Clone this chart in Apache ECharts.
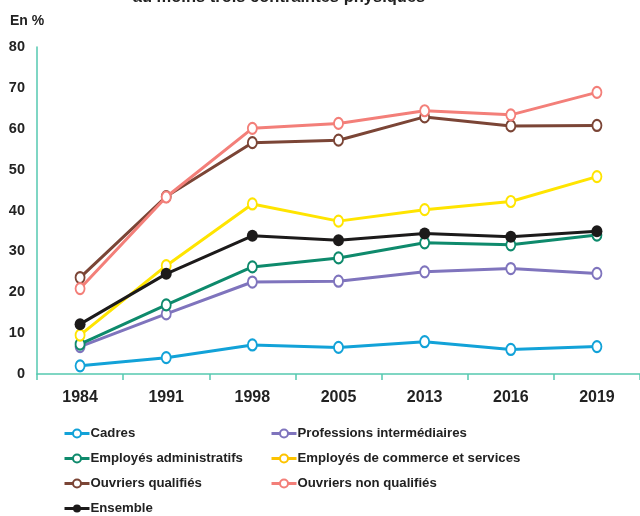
<!DOCTYPE html>
<html>
<head>
<meta charset="utf-8">
<script src="https://cdn.jsdelivr.net/npm/echarts@6/dist/echarts.min.js"></script>
<style>html,body{margin:0;padding:0;background:#fff;}#c{width:640px;height:516px;}</style>
</head>
<body>
<div id="c"></div>
<script>
const years = ['1984', '1991', '1998', '2005', '2013', '2016', '2019'];
const yTicks = [0, 10, 20, 30, 40, 50, 60, 70, 80];
const cadres = [2.0, 4.0, 7.1, 6.5, 7.9, 6.0, 6.7];
const professions = [6.7, 14.7, 22.5, 22.7, 25.0, 25.8, 24.6];
const employesAdmin = [7.3, 16.9, 26.2, 28.4, 32.1, 31.6, 34.0];
const employesCommerce = [9.5, 26.5, 41.6, 37.4, 40.2, 42.2, 48.3];
const ouvriersQualifies = [23.6, 43.4, 56.6, 57.2, 62.9, 60.7, 60.8];
const ouvriersNonQualifies = [20.9, 43.3, 60.1, 61.3, 64.4, 63.4, 68.9];
const ensemble = [12.2, 24.5, 33.8, 32.7, 34.4, 33.6, 34.9];

const names = ['Cadres', 'Professions intermédiaires', 'Employés administratifs',
  'Employés de commerce et services', 'Ouvriers qualifiés', 'Ouvriers non qualifiés', 'Ensemble'];
const colors = ['#12a2d8', '#7f74bd', '#0e8a6c', '#ffe400', '#7b4536', '#f37f79', '#1c1a1a'];
const legendColors = ['#12a2d8', '#7f74bd', '#0e8a6c', '#fdc300', '#7b4536', '#f37f79', '#1c1a1a'];
const values = [cadres, professions, employesAdmin, employesCommerce, ouvriersQualifies, ouvriersNonQualifies, ensemble];

const FONT = '"Liberation Sans", Arial, sans-serif';
const axisColor = '#55c9b0';

const series = names.map((n, i) => ({
  name: n,
  type: 'line',
  data: values[i],
  symbol: i === 6 ? 'circle' : 'emptyCircle',
  symbolSize: i === 6 ? [11, 12] : [9, 11],
  showSymbol: true,
  lineStyle: { color: colors[i], width: 3 },
  itemStyle: { color: colors[i], borderWidth: 1.3 },
  z: 2 + i,
  animation: false
}));

const legendPos = [
  [63, 427], [270, 427], [63, 452], [270, 452], [63, 477], [270, 477], [63, 502]
];
const legends = names.map((n, i) => ({
  left: legendPos[i][0], top: legendPos[i][1],
  padding: 0,
  itemWidth: 25, itemHeight: 10, itemGap: 0,
  data: [{ name: n, itemStyle: { color: legendColors[i], borderWidth: 1.3 }, lineStyle: { color: legendColors[i], width: 3 } }],
  textStyle: { fontFamily: FONT, fontWeight: 'bold', fontSize: 13.2, color: '#222', padding: [0, 0, 0, -4] },
  selectedMode: false
}));

const chart = echarts.init(document.getElementById('c'), null, { renderer: 'canvas' });
chart.setOption({
  backgroundColor: '#fff',
  animation: false,
  graphic: [
    { type: 'text', style: { text: 'au moins trois contraintes physiques', font: 'bold 16.5px ' + FONT, fill: '#222', x: 279, y: 5.5, textAlign: 'center', textVerticalAlign: 'bottom' } },
    { type: 'text', style: { text: 'En %', x: 10, y: 21, font: 'bold 14px ' + FONT, fill: '#222', textVerticalAlign: 'middle' } }
  ],
  grid: { left: 37, top: 47, width: 611, height: 327 },
  legend: legends,
  xAxis: {
    type: 'category', data: years, boundaryGap: true,
    axisLine: { lineStyle: { color: axisColor, width: 1.5 } },
    axisTick: { show: true, length: 6, lineStyle: { color: axisColor, width: 1.5 } },
    axisLabel: { fontFamily: FONT, fontWeight: 'bold', fontSize: 16, color: '#222', margin: 16 },
    splitLine: { show: false }
  },
  yAxis: {
    type: 'value', min: yTicks[0], max: yTicks[yTicks.length - 1], interval: 10,
    axisLine: { show: true, lineStyle: { color: axisColor, width: 1.5 } },
    axisTick: { show: false },
    axisLabel: { fontFamily: FONT, fontWeight: 'bold', fontSize: 14.5, color: '#222', margin: 12 },
    splitLine: { show: false }
  },
  series: series
});
</script>
</body>
</html>
